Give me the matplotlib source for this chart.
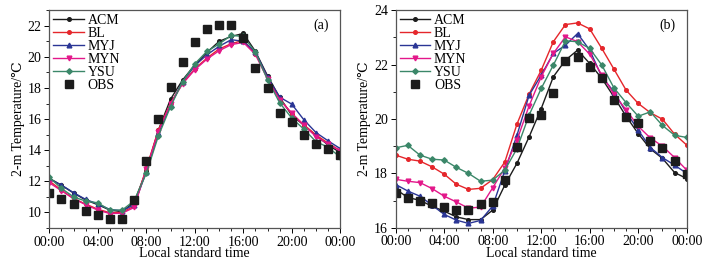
import numpy as np
import matplotlib
matplotlib.use('Agg')
import matplotlib.pyplot as plt
from matplotlib.ticker import MultipleLocator

# --- Data ---
hours = list(range(25))
tick_hours = [0, 4, 8, 12, 16, 20, 24]
tick_labels = ['00:00', '04:00', '08:00', '12:00', '16:00', '20:00', '00:00']

# panel (a)
acm_a = [12.2, 11.75, 11.25, 10.8, 10.5, 10.15, 10.05, 10.65, 12.68, 15.3, 17.28, 18.52,
         19.47, 20.28, 20.99, 21.31, 21.5, 20.35, 18.78, 17.4, 16.25, 15.6, 14.95, 14.34, 13.84]
bl_a = [12.02, 11.44, 10.9, 10.54, 10.21, 9.98, 10.0, 10.41, 12.83, 15.3, 17.02, 18.31,
        19.23, 19.92, 20.5, 20.84, 21.06, 20.2, 18.65, 17.3, 16.35, 15.63, 14.98, 14.45, 13.97]
myj_a = [12.15, 11.76, 11.27, 10.84, 10.54, 10.19, 10.11, 10.5, 12.6, 15.1, 16.9, 18.41,
         19.43, 20.13, 20.67, 21.1, 21.0, 20.3, 18.7, 17.41, 16.96, 15.95, 15.13, 14.6, 14.1]
myn_a = [11.91, 11.4, 10.88, 10.5, 10.15, 9.93, 9.95, 10.32, 12.78, 15.2, 17.0, 18.27,
         19.17, 19.85, 20.39, 20.78, 20.93, 20.15, 18.58, 17.23, 16.38, 15.6, 14.87, 14.4, 13.95]
ysu_a = [12.25, 11.55, 11.0, 10.73, 10.62, 10.15, 10.15, 10.75, 12.51, 14.92, 16.8, 18.41,
         19.55, 20.35, 20.82, 21.38, 21.31, 20.3, 18.52, 17.05, 16.06, 15.35, 14.55, 14.19, 13.55]
obs_a = [11.22, 10.84, 10.54, 10.11, 9.81, 9.61, 9.61, 10.79, 13.31, 16.03, 18.05, 19.66,
         20.97, 21.76, 22.02, 22.02, 21.2, 19.3, 17.99, 16.42, 15.8, 14.98, 14.38, 14.06, 13.7]

# panel (b)
acm_b = [17.42, 17.11, 17.01, 16.79, 16.61, 16.4, 16.3, 16.3, 16.65, 17.57, 18.37, 19.34,
         20.38, 21.55, 22.16, 22.53, 22.04, 21.49, 20.81, 20.1, 19.46, 18.9, 18.55, 18.03, 17.81]
bl_b = [18.67, 18.52, 18.45, 18.24, 17.97, 17.6, 17.41, 17.45, 17.77, 18.42, 19.81, 20.91,
        21.79, 22.84, 23.47, 23.53, 23.31, 22.59, 21.83, 21.06, 20.57, 20.23, 19.99, 19.44, 19.04]
myj_b = [17.59, 17.35, 17.16, 16.83, 16.49, 16.28, 16.16, 16.27, 16.8, 18.1, 19.4, 20.87,
         21.61, 22.41, 22.71, 23.14, 22.53, 21.55, 21.0, 20.25, 19.59, 18.95, 18.58, 18.3, 18.0]
myn_b = [17.78, 17.71, 17.66, 17.44, 17.16, 16.95, 16.72, 16.76, 17.47, 18.2, 19.22, 20.48,
         21.55, 22.41, 23.02, 22.84, 22.38, 21.61, 20.91, 20.34, 19.73, 19.3, 19.0, 18.58, 18.12]
ysu_b = [18.94, 19.03, 18.67, 18.52, 18.49, 18.22, 18.0, 17.71, 17.75, 18.12, 18.91, 20.14,
         21.12, 21.98, 22.87, 22.84, 22.59, 21.98, 21.14, 20.6, 20.1, 20.26, 19.76, 19.4, 19.32]
obs_b = [17.26, 17.1, 17.0, 16.9, 16.76, 16.67, 16.67, 16.86, 16.95, 17.76, 18.98, 20.02,
         20.16, 20.94, 22.13, 22.28, 21.92, 21.51, 20.69, 20.08, 19.84, 19.2, 18.95, 18.47, 17.96]

# --- Style ---
plt.rcParams['font.family'] = ['Liberation Serif', 'DejaVu Serif']
FS = 10

series = [
    ('ACM', '#1c1c1c', 'o', 2.6),
    ('BL', '#e5262b', 'o', 2.6),
    ('MYJ', '#2a3595', '^', 3.4),
    ('MYN', '#e3178a', 'v', 3.4),
    ('YSU', '#3b8769', 'D', 2.8),
]

fig = plt.figure(figsize=(7.07, 2.6), dpi=100)
ax_a = fig.add_axes([0.0697, 0.123, 0.4116, 0.838])
ax_b = fig.add_axes([0.5597, 0.124, 0.4116, 0.837])


def draw_panel(ax, model_vals, obs, ylim, label):
    for (name, color, marker, ms), vals in zip(series, model_vals):
        ax.plot(hours, vals, color=color, marker=marker, markersize=ms,
                linewidth=1.0, label=name)
    ax.plot(hours, obs, linestyle='none', marker='s', markersize=5.5,
            color='#1c1c1c', label='OBS')

    ax.set_xlim(0, 24)
    ax.set_ylim(*ylim)
    ax.set_xticks(tick_hours)
    ax.set_xticklabels(tick_labels)
    ax.xaxis.set_minor_locator(MultipleLocator(1))
    ax.yaxis.set_major_locator(MultipleLocator(2))
    ax.yaxis.set_minor_locator(MultipleLocator(1))
    ax.tick_params(which='both', direction='out', top=False, right=False,
                   labelsize=FS, pad=2)
    ax.tick_params(which='major', length=3.5, width=0.7)
    ax.tick_params(which='minor', length=2, width=0.6)
    for sp in ax.spines.values():
        sp.set_color('#555555')
        sp.set_linewidth(0.9)

    ax.set_xlabel('Local standard time', fontsize=FS, labelpad=-1)
    ax.set_ylabel('2-m Temperature/\u2103', fontsize=FS, labelpad=2)
    ax.text(0.96, 0.93, label, transform=ax.transAxes, ha='right', va='center',
            fontsize=FS)

    ax.legend(loc='upper left', frameon=False, fontsize=FS, labelspacing=0.0,
              handlelength=2.2, handletextpad=0.25, borderaxespad=0.2,
              borderpad=0.1)


draw_panel(ax_a, [acm_a, bl_a, myj_a, myn_a, ysu_a], obs_a, (9, 23), '(a)')
draw_panel(ax_b, [acm_b, bl_b, myj_b, myn_b, ysu_b], obs_b, (16, 24), '(b)')

fig.savefig('out.png', dpi=100)
